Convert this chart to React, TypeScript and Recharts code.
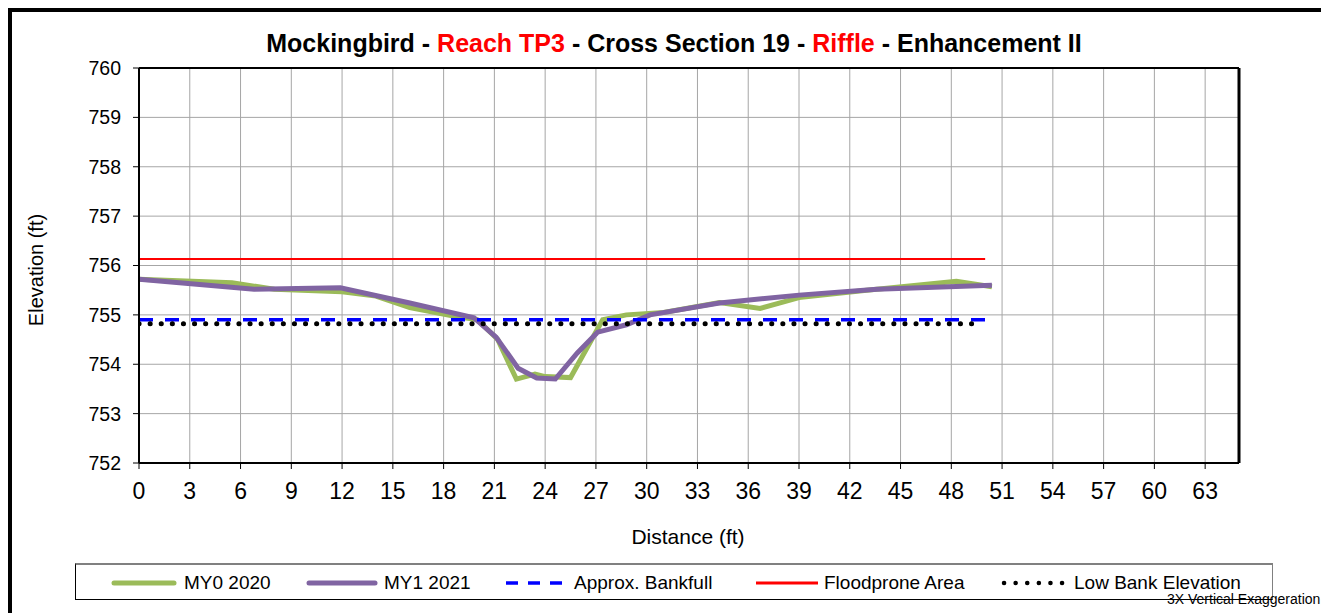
import React from "react";
import { ComposedChart, Line, XAxis, YAxis, CartesianGrid, ReferenceLine } from "recharts";

const xTicks = [0, 3, 6, 9, 12, 15, 18, 21, 24, 27, 30, 33, 36, 39, 42, 45, 48, 51, 54, 57, 60, 63];
const yTicks = [752, 753, 754, 755, 756, 757, 758, 759, 760];

const my0Dist = [0, 5.5, 8, 12, 14, 16, 18.5, 20, 21.2, 22.3, 23.4, 24, 25.5, 27.4, 28.8, 31, 34.3, 36.7, 39, 43, 48.3, 50.4];
const my0Elev = [755.72, 755.65, 755.52, 755.47, 755.38, 755.15, 754.98, 754.9, 754.5, 753.7, 753.8, 753.75, 753.73, 754.9, 755.0, 755.05, 755.25, 755.13, 755.35, 755.5, 755.68, 755.57];

const my1Dist = [0, 6.8, 11.9, 16, 19.8, 21.1, 22.4, 23.5, 24.6, 25.9, 27.1, 28.8, 30.2, 34.3, 39, 43.6, 50.4];
const my1Elev = [755.72, 755.52, 755.55, 755.24, 754.94, 754.55, 753.92, 753.72, 753.7, 754.23, 754.65, 754.8, 755.0, 755.24, 755.4, 755.52, 755.6];

const bankfullDist = [0, 50];
const bankfullElev = [754.9, 754.9];
const floodDist = [0, 50];
const floodElev = [756.13, 756.13];
const lowBankDist = [0, 49.5];
const lowBankElev = [754.82, 754.82];

const zip = (xs: number[], ys: number[]) => xs.map((x, i) => ({ x, y: ys[i] }));

const my0Data = zip(my0Dist, my0Elev);
const my1Data = zip(my1Dist, my1Elev);
const bankfullData = zip(bankfullDist, bankfullElev);
const floodData = zip(floodDist, floodElev);
const lowBankData = zip(lowBankDist, lowBankElev);

const FONT = "Arial, 'Liberation Sans', sans-serif";

const legendText: React.CSSProperties = {
  position: "absolute",
  top: 0,
  height: 35,
  lineHeight: "35px",
  fontSize: 19,
  fontFamily: FONT,
  color: "#000",
  whiteSpace: "nowrap",
};

const swatchStyle = (left: number, width: number): React.CSSProperties => ({
  position: "absolute",
  left,
  top: 10,
  width,
  height: 16,
});

export default function App() {
  return (
    <div style={{ position: "relative", width: 1321, height: 605, overflow: "hidden", background: "#fff" }}>
      <div
        style={{
          position: "absolute",
          left: 0,
          top: 0,
          width: 1340,
          height: 640,
          borderTop: "4px solid #000",
          borderLeft: "4px solid #000",
          boxSizing: "border-box",
        }}
      />
      <div
        style={{
          position: "absolute",
          left: 0,
          width: 1332,
          top: 20,
          textAlign: "center",
          fontFamily: FONT,
          fontWeight: "bold",
          fontSize: 25,
          lineHeight: "30px",
          whiteSpace: "nowrap",
          color: "#000",
        }}
      >
        Mockingbird - <span style={{ color: "#FF0000" }}>Reach TP3</span> - Cross Section 19 -{" "}
        <span style={{ color: "#FF0000" }}>Riffle</span> - Enhancement II
      </div>
      <div style={{ position: "absolute", left: 0, top: 0 }}>
        <ComposedChart width={1321} height={600} margin={{ top: 60, right: 90, left: 0, bottom: 85 }}>
          <CartesianGrid stroke="#a6a6a6" strokeWidth={1} vertical={true} horizontal={true} />
          <XAxis
            type="number"
            dataKey="x"
            domain={[0, 65]}
            ticks={xTicks}
            interval={0}
            allowDataOverflow
            height={60}
            stroke="#000"
            strokeWidth={2}
            tickSize={6}
            tickMargin={14}
            tick={{ fill: "#000", fontSize: 23, fontFamily: FONT }}
            tickLine={{ stroke: "#000", strokeWidth: 1 }}
          />
          <YAxis
            type="number"
            dataKey="y"
            domain={[752, 760]}
            ticks={yTicks}
            interval={0}
            allowDataOverflow
            width={131}
            stroke="#000"
            strokeWidth={2}
            tickSize={6}
            tickMargin={12}
            tick={{ fill: "#000", fontSize: 19.5, fontFamily: FONT }}
            tickLine={{ stroke: "#000", strokeWidth: 1 }}
          />
          <ReferenceLine x={65} stroke="#000" strokeWidth={3} />
          <ReferenceLine y={760} stroke="#000" strokeWidth={2} />
          <Line
            data={floodData}
            dataKey="y"
            stroke="#FF0000"
            strokeWidth={2}
            dot={false}
            isAnimationActive={false}
          />
          <Line
            data={my0Data}
            dataKey="y"
            stroke="#9BBB59"
            strokeWidth={5}
            dot={false}
            isAnimationActive={false}
          />
          <Line
            data={my1Data}
            dataKey="y"
            stroke="#8064A2"
            strokeWidth={5}
            dot={false}
            isAnimationActive={false}
          />
          <Line
            data={bankfullData}
            dataKey="y"
            stroke="#0000FF"
            strokeWidth={3.5}
            strokeDasharray="14 12"
            dot={false}
            isAnimationActive={false}
          />
          <Line
            data={lowBankData}
            dataKey="y"
            stroke="#000"
            strokeWidth={5}
            strokeLinecap="round"
            strokeDasharray="0.1 11"
            dot={false}
            isAnimationActive={false}
          />
        </ComposedChart>
      </div>
      <div
        style={{
          position: "absolute",
          left: 28,
          top: 262,
          transform: "translate(-50%, -50%) rotate(-90deg)",
          fontFamily: FONT,
          fontSize: 20,
          whiteSpace: "nowrap",
          color: "#000",
        }}
      >
        Elevation (ft)
      </div>
      <div
        style={{
          position: "absolute",
          left: 680,
          top: 529,
          transform: "translate(-50%, -50%)",
          fontFamily: FONT,
          fontSize: 21,
          whiteSpace: "nowrap",
          color: "#000",
        }}
      >
        Distance (ft)
      </div>
      <div
        style={{
          position: "absolute",
          left: 67,
          top: 555,
          width: 1198,
          height: 37,
          boxSizing: "border-box",
          borderTop: "2px solid #808080",
          borderLeft: "1px solid #000",
          borderRight: "1px solid #808080",
          borderBottom: "1px solid #000",
          background: "#fff",
        }}
      >
        <svg style={swatchStyle(35, 66)}>
          <line x1={3} y1={8} x2={63} y2={8} stroke="#9BBB59" strokeWidth={5} strokeLinecap="round" />
        </svg>
        <div style={{ ...legendText, left: 108 }}>MY0 2020</div>
        <svg style={swatchStyle(230, 72)}>
          <line x1={3} y1={8} x2={69} y2={8} stroke="#8064A2" strokeWidth={5} strokeLinecap="round" />
        </svg>
        <div style={{ ...legendText, left: 308 }}>MY1 2021</div>
        <svg style={swatchStyle(430, 62)}>
          <line x1={0} y1={8} x2={62} y2={8} stroke="#0000FF" strokeWidth={3.5} strokeDasharray="12 10" />
        </svg>
        <div style={{ ...legendText, left: 498 }}>Approx. Bankfull</div>
        <svg style={swatchStyle(680, 62)}>
          <line x1={0} y1={8} x2={62} y2={8} stroke="#FF0000" strokeWidth={3} />
        </svg>
        <div style={{ ...legendText, left: 748 }}>Floodprone Area</div>
        <svg style={swatchStyle(925, 68)}>
          <line x1={3} y1={8} x2={66} y2={8} stroke="#000" strokeWidth={4.5} strokeLinecap="round" strokeDasharray="0.1 11.5" />
        </svg>
        <div style={{ ...legendText, left: 998 }}>Low Bank Elevation</div>
      </div>
      <div
        style={{
          position: "absolute",
          left: 1159,
          top: 583,
          fontFamily: FONT,
          fontSize: 14,
          lineHeight: "16px",
          whiteSpace: "nowrap",
          color: "#000",
        }}
      >
        3X Vertical Exaggeration
      </div>
    </div>
  );
}
